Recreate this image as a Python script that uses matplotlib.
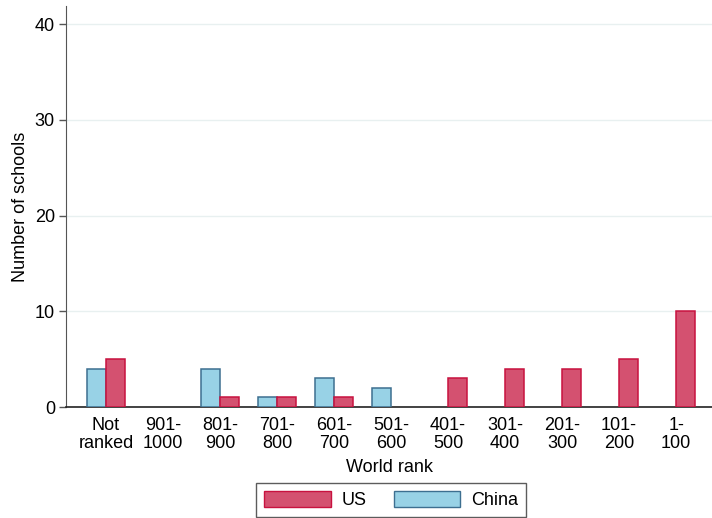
import numpy as np
import matplotlib
matplotlib.use("Agg")
import matplotlib.pyplot as plt
from matplotlib.patches import Patch

categories = ["Not\nranked", "901-\n1000", "801-\n900", "701-\n800", "601-\n700",
              "501-\n600", "401-\n500", "301-\n400", "201-\n300", "101-\n200", "1-\n100"]
china = [4, 0, 4, 1, 3, 2, 0, 0, 0, 0, 0]
us = [5, 0, 1, 1, 1, 0, 3, 4, 4, 5, 10]

plt.rcParams['font.family'] = ['Liberation Sans', 'DejaVu Sans']

us_fill, us_edge = '#d45170', '#c8123f'
cn_fill, cn_edge = '#98d2e6', '#3d6f90'
FS = 13

fig = plt.figure(figsize=(7.12, 5.18), dpi=100)
ax = fig.add_axes([66/712, 111/518, 1 - 66/712, (407-6)/518])

x = np.arange(len(categories))
w = 1/3
cn = np.array(china, dtype=float)
u = np.array(us, dtype=float)
m = cn > 0
ax.bar(x[m] - w/2, cn[m], width=w, color=cn_fill, edgecolor=cn_edge, linewidth=1.1, label='China', zorder=3)
m = u > 0
ax.bar(x[m] + w/2, u[m], width=w, color=us_fill, edgecolor=us_edge, linewidth=1.1, label='US', zorder=3)

ax.set_xlim(-0.7, 10.63)
ax.set_ylim(0, 41.9)
ax.set_yticks([0, 10, 20, 30, 40])
ax.set_xticks(x)
ax.set_xticklabels(categories, fontsize=FS, linespacing=1.1)
ax.tick_params(axis='x', length=0, pad=7)
ax.tick_params(axis='y', length=5, width=1, color='#555555', labelsize=FS, pad=3)
ax.grid(axis='y', color='#e8f0f0', linewidth=1, zorder=0)
ax.set_axisbelow(True)
for s in ['top', 'right']:
    ax.spines[s].set_visible(False)
ax.spines['left'].set_color('#555555')
ax.spines['bottom'].set_color('#222222')
ax.spines['bottom'].set_linewidth(1.2)

ax.set_ylabel('Number of schools', fontsize=FS, labelpad=4)
ax.set_xlabel('World rank', fontsize=FS, labelpad=5)

handles = [Patch(facecolor=us_fill, edgecolor=us_edge, label='US'),
           Patch(facecolor=cn_fill, edgecolor=cn_edge, label='China')]
leg = fig.legend(handles=handles, loc='center', bbox_to_anchor=(391/712, 1 - 500/518),
                 ncol=2, frameon=True, fancybox=False, fontsize=FS,
                 handlelength=3.7, handleheight=1.0, handletextpad=0.6, columnspacing=1.5,
                 borderpad=0.45, borderaxespad=0, edgecolor='#333333')
leg.get_frame().set_linewidth(1)

fig.savefig('out.png', dpi=100)
